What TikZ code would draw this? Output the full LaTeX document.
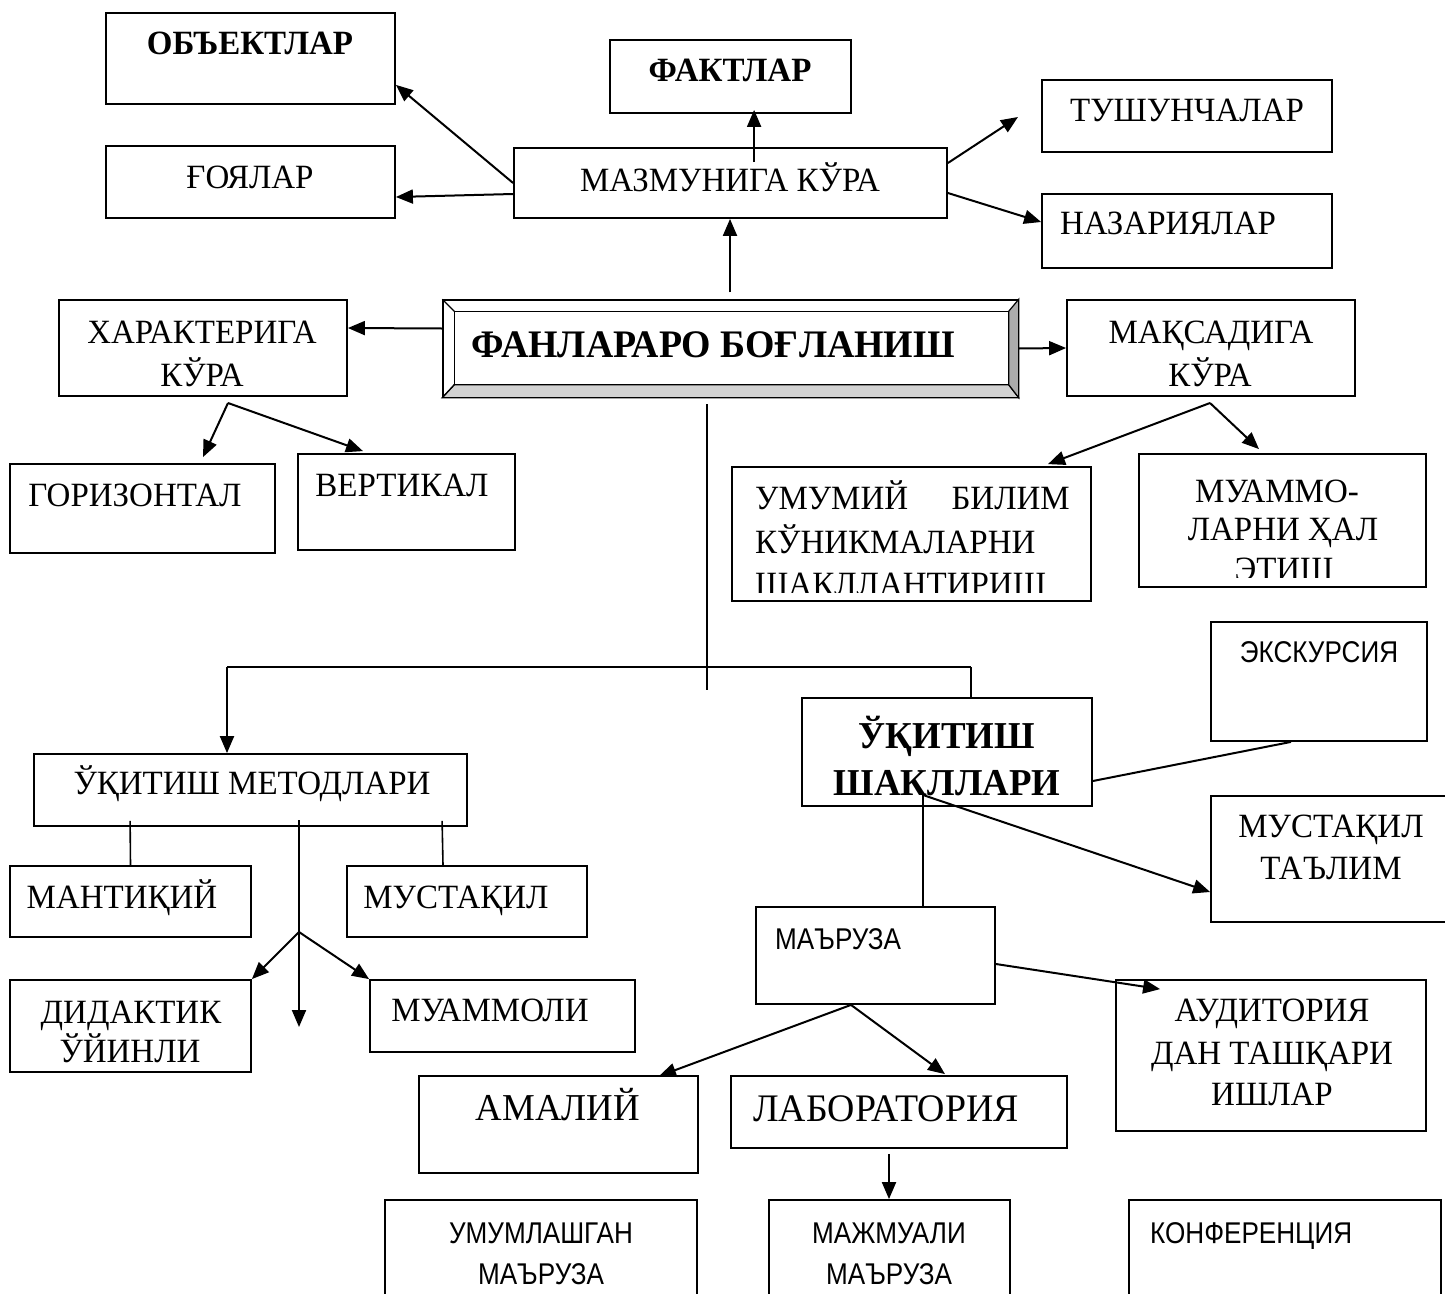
\documentclass[tikz,border=0pt]{standalone}
\usepackage{fontspec}
\setmainfont{Liberation Serif}[FakeStretch=0.97]
\setsansfont{Liberation Sans}[FakeStretch=0.87]
\usetikzlibrary{arrows.meta, calc}

\tikzset{
    box/.style={draw, line width=1.8pt, inner sep=0pt},
    txt/.style={inner sep=0pt, anchor=base, font=\fontsize{34}{40}\selectfont},
    btxt/.style={txt, font=\fontsize{34}{40}\selectfont\bfseries},
    stxt/.style={txt, font=\fontsize{30}{36}\selectfont\sffamily},
    arr/.style={line width=2pt, -{Triangle[length=17pt,width=14pt]}},
    ln/.style={line width=1.6pt},
}

\begin{document}
\begin{tikzpicture}[x=1pt, y=-1pt]
    \useasboundingbox (0,0) rectangle (1445,1293);
    \clip (0,0) rectangle (1445,1293);

    % Draw the boxes
    \node[box, minimum width=289pt, minimum height=91pt]  (obj)   at (250.5,58.5)  {};
    \node[box, minimum width=241pt, minimum height=73pt]  (fakt)  at (730.5,76.5)  {};
    \node[box, minimum width=290pt, minimum height=72pt]  (tush)  at (1187,116)    {};
    \node[box, minimum width=289pt, minimum height=72pt]  (goya)  at (250.5,182)   {};
    \node[box, minimum width=433pt, minimum height=70pt]  (mazm)  at (730.5,183)   {};
    \node[box, minimum width=290pt, minimum height=74pt]  (nazar) at (1187,231)    {};

    \node[box, line width=1.3pt, minimum width=575pt, minimum height=97pt] (main) at (730.5,348.5) {};
    \node[box, minimum width=288pt, minimum height=96pt]  (khar)  at (203,348)     {};
    \node[box, minimum width=288pt, minimum height=96pt]  (maqs)  at (1211,348)    {};

    \node[box, minimum width=265pt, minimum height=89pt]  (gor)   at (142.5,508.5) {};
    \node[box, minimum width=217pt, minimum height=96pt]  (vert)  at (406.5,502)   {};
    \node[box, minimum width=359pt, minimum height=134pt] (umum)  at (911.5,534)   {};
    \node[box, minimum width=287pt, minimum height=133pt] (muam)  at (1282.5,520.5) {};

    \node[box, minimum width=216pt, minimum height=119pt] (exk)   at (1319,681.5)  {};
    \node[box, minimum width=433pt, minimum height=72pt]  (uqm)   at (250.5,790)   {};
    \node[box, minimum width=290pt, minimum height=108pt] (uqsh)  at (947,752)     {};
    \node[box, minimum width=260pt, minimum height=126pt] (must2) at (1341,859)    {};

    \node[box, minimum width=241pt, minimum height=71pt]  (mant)  at (130.5,901.5) {};
    \node[box, minimum width=240pt, minimum height=71pt]  (must1) at (467,901.5)   {};
    \node[box, minimum width=239pt, minimum height=97pt]  (marz)  at (875.5,955.5) {};

    \node[box, minimum width=241pt, minimum height=92pt]  (did)   at (130.5,1026)  {};
    \node[box, minimum width=265pt, minimum height=72pt]  (muamoli) at (502.5,1016) {};
    \node[box, minimum width=310pt, minimum height=151pt] (aud)   at (1271,1055.5) {};
    \node[box, minimum width=279pt, minimum height=97pt]  (amal)  at (558.5,1124.5) {};
    \node[box, minimum width=336pt, minimum height=72pt]  (lab)   at (899,1112)    {};

    \node[box, minimum width=312pt, minimum height=120pt] (umml)  at (541,1260)    {};
    \node[box, minimum width=241pt, minimum height=120pt] (majm)  at (889.5,1260)  {};
    \node[box, minimum width=312pt, minimum height=120pt] (konf)  at (1285,1260)   {};

    % Bevel of the main box
    \filldraw[fill=gray!35, line width=1.2pt] (main.south west) -- (main.south east)
        -- ($(main.south east)+(-10,-13)$) -- ($(main.south west)+(12,-13)$) -- cycle;
    \filldraw[fill=gray!65, line width=1.2pt] (main.north east) -- (main.south east)
        -- ($(main.south east)+(-10,-13)$) -- ($(main.north east)+(-10,12)$) -- cycle;
    \draw[line width=1.2pt] ($(main.north west)+(12,12)$) rectangle ($(main.south east)+(-10,-13)$);
    \draw[line width=1.2pt] (main.north west) -- +(12,12) (main.south west) -- +(12,-13);

    % Texts
    \node[btxt] (obj-t)   at (250,54)   {ОБЪЕКТЛАР};
    \node[btxt] (fakt-t)  at (730,81)   {ФАКТЛАР};
    \node[txt]  (tush-t)  at (1187,121) {ТУШУНЧАЛАР};
    \node[txt]  (goya-t)  at (250,188)  {ҒОЯЛАР};
    \node[txt]  (mazm-t)  at (730,191)  {МАЗМУНИГА КЎРА};
    \node[txt]  (nazar-t) at (1168,234) {НАЗАРИЯЛАР};
    \node[btxt, font=\fontsize{39}{46}\selectfont\bfseries] (main-t) at (713,357) {ФАНЛАРАРО БОҒЛАНИШ};
    \node[txt]  (khar-t1) at (202,343)  {ХАРАКТЕРИГА};
    \node[txt]  (khar-t2) at (202,386)  {КЎРА};
    \node[txt]  (maqs-t1) at (1211,343) {МАҚСАДИГА};
    \node[txt]  (maqs-t2) at (1210,386) {КЎРА};
    \node[txt]  (gor-t)   at (135,506)  {ГОРИЗОНТАЛ};
    \node[txt]  (vert-t)  at (402,496)  {ВЕРТИКАЛ};
    \begin{scope}
        \clip ($(umum.north west)+(2,2)$) rectangle ($(umum.south east)+(-2,-9)$);
        \node[txt, anchor=base west] (umum-t1) at (755,509)  {УМУМИЙ};
        \node[txt, anchor=base east] (umum-t2) at (1070,509) {БИЛИМ};
        \node[txt, anchor=base west] (umum-t3) at (755,553)  {КЎНИКМАЛАРНИ};
        \node[txt, anchor=base west] (umum-t4) at (755,595)  {ШАКЛЛАНТИРИШ};
    \end{scope}
    \begin{scope}
        \clip ($(muam.north west)+(2,2)$) rectangle ($(muam.south east)+(-2,-10)$);
        \node[txt] (muam-t1) at (1277,502) {МУАММО-};
        \node[txt] (muam-t2) at (1283,540) {ЛАРНИ ҲАЛ};
        \node[txt] (muam-t3) at (1284,580) {ЭТИШ};
    \end{scope}
    \node[stxt] (exk-t) at (1319,662) {ЭКСКУРСИЯ};
    \node[txt]  (uqm-t)   at (252,794)  {ЎҚИТИШ МЕТОДЛАРИ};
    \node[btxt, font=\fontsize{38}{46}\selectfont\bfseries] (uqsh-t1) at (947,748) {ЎҚИТИШ};
    \node[btxt, font=\fontsize{38}{46}\selectfont\bfseries] (uqsh-t2) at (947,795) {ШАКЛЛАРИ};
    \node[txt]  (must2-t1) at (1331,837) {МУСТАҚИЛ};
    \node[txt]  (must2-t2) at (1331,879) {ТАЪЛИМ};
    \node[txt]  (mant-t)  at (122,908)  {МАНТИҚИЙ};
    \node[txt]  (must1-t) at (456,908)  {МУСТАҚИЛ};
    \node[stxt, anchor=base west] (marz-t) at (775,949) {МАЪРУЗА};
    \node[txt]  (did-t1)  at (131,1023) {ДИДАКТИК};
    \node[txt]  (did-t2)  at (130,1062) {ЎЙИНЛИ};
    \node[txt]  (muamoli-t) at (490,1021) {МУАММОЛИ};
    \node[txt]  (aud-t1)  at (1272,1021) {АУДИТОРИЯ};
    \node[txt]  (aud-t2)  at (1272,1064) {ДАН ТАШҚАРИ};
    \node[txt]  (aud-t3)  at (1272,1105) {ИШЛАР};
    \node[txt, font=\fontsize{38}{44}\selectfont] (amal-t) at (558,1120) {АМАЛИЙ};
    \node[txt, font=\fontsize{39}{46}\selectfont] (lab-t)  at (886,1121) {ЛАБОРАТОРИЯ};
    \node[stxt] (umml-t1) at (541,1243) {УМУМЛАШГАН};
    \node[stxt] (umml-t2) at (541,1284) {МАЪРУЗА};
    \node[stxt] (majm-t1) at (889,1243) {МАЖМУАЛИ};
    \node[stxt] (majm-t2) at (889,1284) {МАЪРУЗА};
    \node[stxt, anchor=base west] (konf-t) at (1150,1243) {КОНФЕРЕНЦИЯ};

    % Branch points
    \coordinate (kb)  at (228,403);
    \coordinate (mb)  at (1210,403);
    \coordinate (tt)  at (707,404);
    \coordinate (tb)  at (707,690);
    \coordinate (hl)  at (227,667);
    \coordinate (hr)  at (971,667);
    \coordinate (mt)  at (299,820);
    \coordinate (mm)  at (299,932);
    \coordinate (st)  at (923,795);
    \coordinate (tip) at (1018,117);

    % Connect the boxes
    \draw[arr] ($(main.north)+(-0.5,-7)$) -- (mazm.south -| 730,0);
    \draw[arr] ($(mazm.north west)+(241,15)$) -- ($(fakt.south west)+(145,-4)$);
    \draw[arr] (mazm.west) -- ($(obj.south east)+(0,-20)$);
    \draw[arr] ($(mazm.west)+(0,11)$) -- ($(goya.east)+(0,15)$);
    \draw[arr] ($(mazm.east)+(0,-20)$) -- (tip);
    \draw[arr] ($(mazm.east)+(0,10)$) -- ($(nazar.west)+(0,-9)$);

    \draw[arr] ($(main.west)+(0,-20)$) -- ($(khar.east)+(0,-20)$);
    \draw[arr] (main.east) -- (maqs.west);

    \draw[arr] (kb) -- ($(gor.north)+(60.5,-6)$);
    \draw[arr] (kb) -- ($(vert.north)+(-43.5,-2)$);
    \draw[arr] (mb) -- ($(umum.north)+(136.5,-2)$);
    \draw[arr] (mb) -- ($(muam.north)+(-23.5,-4)$);

    \draw[ln] (tt) -- (tb);
    \draw[ln] (hl) -- (hr);
    \draw[arr] (hl) -- (uqm.north -| hl);
    \draw[ln] (hr) -- (uqsh.north -| hr);

    \draw[ln] ($(uqm.south west)+(97,-6)$) -- (mant.north);
    \draw[ln] ($(uqm.south west)+(409,-6)$) -- ($(must1.north)+(-24,0)$);
    \draw[arr] (mt) -- (299,1027);
    \draw[arr] (mm) -- (did.north east);
    \draw[arr] (mm) -- (muamoli.north west);

    \draw[ln, line width=2pt] ($(uqsh.east)+(0,29)$) -- ($(exk.south)+(-28,0)$);
    \draw[arr] (st) -- ($(must2.west)+(0,33)$);
    \draw[ln] (st) -- (marz.north -| st);

    \draw[arr] ($(marz.east)+(0,8.5)$) -- ($(aud.north west)+(45,10)$);
    \draw[arr] ($(marz.south)+(-24.5,0)$) -- ($(amal.north)+(100.5,1)$);
    \draw[arr] ($(marz.south)+(-24.5,0)$) -- ($(lab.north)+(46,-1)$);
    \draw[arr] ($(lab.south)+(-10,5)$) -- (majm.north -| 889,0);
\end{tikzpicture}
\end{document}
